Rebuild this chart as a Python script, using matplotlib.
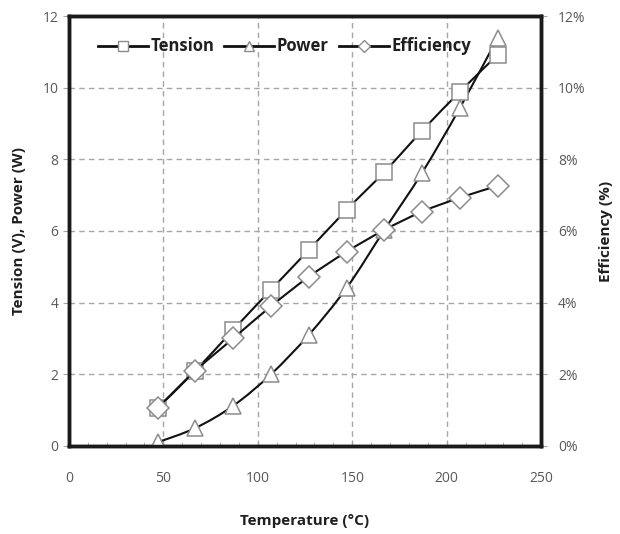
import matplotlib.pyplot as plt
from matplotlib.path import Path
from matplotlib.patches import PathPatch
from matplotlib.lines import Line2D
from matplotlib.ticker import PercentFormatter, MultipleLocator

temperature = [47, 67, 87, 107, 127, 147, 167, 187, 207, 227]  # °C
tension = [1.06, 2.1, 3.24, 4.36, 5.47, 6.59, 7.65, 8.8, 9.89, 10.92]  # V
power = [0.1, 0.5, 1.12, 2.0, 3.1, 4.41, 6.03, 7.63, 9.44, 11.4]  # W
efficiency = [1.06, 2.1, 3.0, 3.9, 4.72, 5.42, 6.03, 6.54, 6.93, 7.26]  # %

plt.rcParams["font.family"] = ["Open Sans", "DejaVu Sans"]


def smooth_line(a, xs, ys):
    # Excel-like smoothed line: Catmull-Rom segments as cubic Bezier curves
    pts = list(zip(xs, ys))
    verts = [pts[0]]
    codes = [Path.MOVETO]
    for i in range(len(pts) - 1):
        p0 = pts[max(i - 1, 0)]
        p1 = pts[i]
        p2 = pts[i + 1]
        p3 = pts[min(i + 2, len(pts) - 1)]
        c1 = (p1[0] + (p2[0] - p0[0]) / 6, p1[1] + (p2[1] - p0[1]) / 6)
        c2 = (p2[0] - (p3[0] - p1[0]) / 6, p2[1] - (p3[1] - p1[1]) / 6)
        verts += [c1, c2, p2]
        codes += [Path.CURVE4] * 3
    a.add_patch(PathPatch(Path(verts, codes), facecolor="none",
                          edgecolor="#111111", linewidth=1.5, zorder=2))


fig = plt.figure(figsize=(6.2, 5.34), dpi=100)
ax = fig.add_axes([0.111, 0.165, 0.762, 0.805])
ax2 = ax.twinx()

mk = dict(linestyle="none", markerfacecolor="white", markeredgecolor="#8c8c8c",
          markeredgewidth=1.1, zorder=3)

smooth_line(ax, temperature, tension)
smooth_line(ax, temperature, power)
eff = [e / 100 for e in efficiency]
smooth_line(ax2, temperature, eff)
ax.plot(temperature, tension, marker="s", markersize=11, **mk)
ax.plot(temperature, power, marker="^", markersize=12, **mk)
ax2.plot(temperature, eff, marker="D", markersize=11, **mk)

ax.set_xlim(0, 250)
ax.set_ylim(0, 12)
ax2.set_ylim(0, 0.12)
ax.set_xticks(range(0, 251, 50))
ax.set_yticks(range(0, 13, 2))
ax2.set_yticks([i / 100 for i in range(0, 13, 2)])
ax2.yaxis.set_major_formatter(PercentFormatter(1.0, decimals=0))
ax.xaxis.set_minor_locator(MultipleLocator(10))

ax.grid(True, linestyle=(0, (4, 3)), color="#a6a6a6", linewidth=1)

for a in (ax, ax2):
    for s in a.spines.values():
        s.set_linewidth(2.5)
        s.set_color("#1a1a1a")
    a.tick_params(labelsize=10, labelcolor="#595959", color="#a6a6a6")

ax.tick_params(axis="x", which="major", direction="in", length=4, pad=18)
ax.tick_params(axis="x", which="minor", direction="in", length=3, color="#a6a6a6")
ax.tick_params(axis="y", direction="out", length=4)
ax2.tick_params(axis="y", direction="out", length=4, pad=8)

lab = dict(fontsize=11, fontweight="bold", color="#1f1f1f")
ax.set_xlabel("Temperature (°C)", labelpad=20, **lab)
ax.set_ylabel("Tension (V), Power (W)", labelpad=12, **lab)
ax2.set_ylabel("Efficiency (%)", labelpad=10, **lab)

hd = dict(color="#111111", linewidth=2, markerfacecolor="white",
          markeredgecolor="#8c8c8c", markersize=7)
handles = [Line2D([], [], marker="s", **hd), Line2D([], [], marker="^", **hd),
           Line2D([], [], marker="D", **dict(hd, markersize=6))]
leg = ax.legend(handles, ["Tension", "Power", "Efficiency"], loc="upper left",
                ncol=3, frameon=False, bbox_to_anchor=(0.03, 0.985),
                handlelength=3.0, handletextpad=0.15, columnspacing=0.6,
                prop={"size": 12, "weight": "bold"})
for t in leg.get_texts():
    t.set_color("#1f1f1f")

fig.savefig("out.png", dpi=100)
